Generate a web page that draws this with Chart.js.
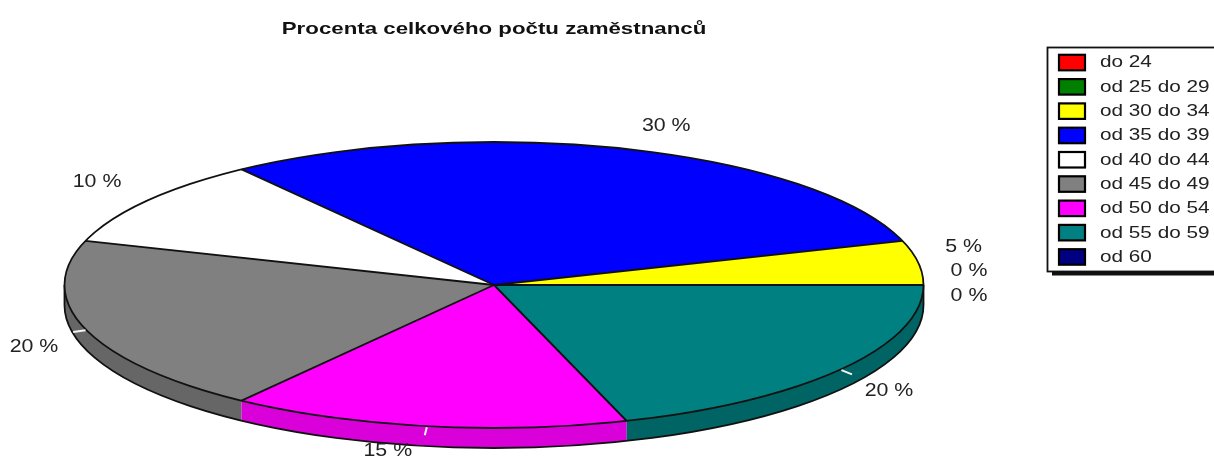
<!DOCTYPE html>
<html><head><meta charset="utf-8">
<style>html,body{margin:0;padding:0;background:#fff;overflow:hidden}#w{position:relative;width:1214px;height:457px}canvas{filter:blur(0.5px)}</style>
<script src="https://cdn.jsdelivr.net/npm/chart.js@4"></script>
</head><body><div id="w"><canvas id="c" width="1214" height="457"></canvas></div>
<script>
const chartTitle = 'Procenta celkového počtu zaměstnanců';
const categories = ['do 24','od 25 do 29','od 30 do 34','od 35 do 39','od 40 do 44','od 45 do 49','od 50 do 54','od 55 do 59','od 60'];
const values = [0,0,5,30,10,20,15,20,0];
const topColors = ['#ff0000','#008000','#ffff00','#0000ff','#ffffff','#808080','#ff00ff','#008080','#000080'];
const sideColors = ['#cc0000','#006000','#cccc00','#0000c0','#cccccc','#666666','#d900d9','#006464','#000060'];

// layout of the flattened pie
const P = {cx:494, cy:285, rx:429.5, ry:143, depth:20};
// offset of each percent label's centre from its slice's rim point
const labelOffsets = [[45.5,11],[45.5,-14],[45.5,-15.5],[39.5,-23],[-49.5,-19],[-51.5,18],[-39,25],[47.5,22.5],[0,0]];
const textStretch = 1.22;

const lines = {
  id:'pie3d',
  beforeDraw(chart){
    const c=chart.ctx;
    c.save();
    c.fillStyle='#fff'; c.fillRect(0,0,1214,457);
    c.restore();
  },
  beforeDatasetsDraw(chart){
    const c=chart.ctx, arcs=chart.getDatasetMeta(0).data;
    // side wall, from the angles the library computed for each slice
    c.save();
    arcs.forEach((a,i)=>{
      const s=Math.max(a.startAngle,Math.PI), e=Math.min(a.endAngle,2*Math.PI);
      if(e<=s) return;
      c.beginPath();
      c.ellipse(P.cx,P.cy,P.rx,P.ry,0,-s,-e,true);
      c.ellipse(P.cx,P.cy+P.depth,P.rx,P.ry,0,-e,-s,false);
      c.closePath();
      c.fillStyle=sideColors[i]; c.fill();
    });
    c.strokeStyle='#111'; c.lineWidth=1.8;
    c.beginPath();
    c.moveTo(P.cx+P.rx,P.cy);
    c.lineTo(P.cx+P.rx,P.cy+P.depth);
    c.ellipse(P.cx,P.cy+P.depth,P.rx,P.ry,0,0,Math.PI,false);
    c.lineTo(P.cx-P.rx,P.cy);
    c.stroke();
    c.restore();
    // flatten the library's circular pie into the ellipse
    const a0=arcs[0];
    c.save();
    c.translate(P.cx,P.cy);
    c.scale(P.rx/a0.outerRadius,-P.ry/a0.outerRadius);
    c.translate(-a0.x,-a0.y);
  },
  afterDatasetsDraw(chart){
    const c=chart.ctx, arcs=chart.getDatasetMeta(0).data;
    c.restore();
    const pt=t=>[P.cx+P.rx*Math.cos(t),P.cy-P.ry*Math.sin(t)];
    c.save();
    c.strokeStyle='#111'; c.lineWidth=1.8;
    c.beginPath(); c.ellipse(P.cx,P.cy,P.rx,P.ry,0,0,2*Math.PI); c.stroke();
    arcs.forEach(a=>{
      if(a.endAngle-a.startAngle<1e-6) return;
      const p=pt(a.startAngle);
      c.beginPath(); c.moveTo(P.cx,P.cy); c.lineTo(p[0],p[1]); c.stroke();
    });
    // small white leader ticks and the percent labels
    c.font='17.5px "Liberation Sans", Arial, sans-serif';
    c.textBaseline='middle'; c.textAlign='center';
    arcs.forEach((a,i)=>{
      const m=(a.startAngle+a.endAngle)/2, p=pt(m);
      if(i>=2 && i<8 && Math.sin(m)<0){
        c.strokeStyle='#f4f4f4'; c.lineWidth=2;
        c.beginPath(); c.moveTo(p[0],p[1]+1);
        c.lineTo(p[0]+13*Math.cos(m),p[1]-9*Math.sin(m)); c.stroke();
      }
      if(i===8) return;
      c.save();
      c.translate(p[0]+labelOffsets[i][0],p[1]+labelOffsets[i][1]);
      c.scale(textStretch,1);
      c.fillStyle='#222';
      c.fillText(values[i]+' %',0,0);
      c.restore();
    });
    c.restore();
  },
  afterDraw(chart){
    const c=chart.ctx;
    c.save();
    // legend frame with drop shadow
    c.fillStyle='#111';
    c.fillRect(1052,52,170,223.5);
    c.fillStyle='#fff'; c.strokeStyle='#111'; c.lineWidth=1.8;
    c.fillRect(1047.5,47.5,180,224); c.strokeRect(1047.5,47.5,180,224);
    categories.forEach((t,i)=>{
      const y=54.8+i*24.3;
      c.fillStyle=topColors[i]; c.strokeStyle='#000'; c.lineWidth=2.2;
      c.fillRect(1059,y,26,15.5); c.strokeRect(1059,y,26,15.5);
      c.save();
      c.translate(1100,y+8);
      c.scale(textStretch,1);
      c.fillStyle='#222'; c.font='17px "Liberation Sans", Arial, sans-serif';
      c.textAlign='left'; c.textBaseline='middle';
      c.fillText(t,0,0);
      c.restore();
    });
    c.restore();
  },
  afterLayout(chart){
    const tb=chart.titleBlock;
    if(tb && !tb._wrapped){
      const d=tb.draw.bind(tb);
      tb.draw=function(){
        const c=chart.ctx; c.save();
        c.translate(494,0); c.scale(1.31,1); c.translate(-607,0);
        d(); c.restore();
      };
      tb._wrapped=true;
    }
  }
};

new Chart(document.getElementById('c'),{
  type:'pie',
  data:{labels:categories,datasets:[{data:values,backgroundColor:topColors,borderWidth:0}]},
  options:{
    responsive:false,animation:false,rotation:90,
    layout:{padding:0},
    plugins:{
      legend:{display:false},tooltip:{enabled:false},
      title:{display:true,text:chartTitle,color:'#111',
        font:{family:'"Liberation Sans", Arial, sans-serif',size:17,weight:'bold'},
        padding:{top:19,bottom:4}}
    }
  },
  plugins:[lines]
});
</script></body></html>
